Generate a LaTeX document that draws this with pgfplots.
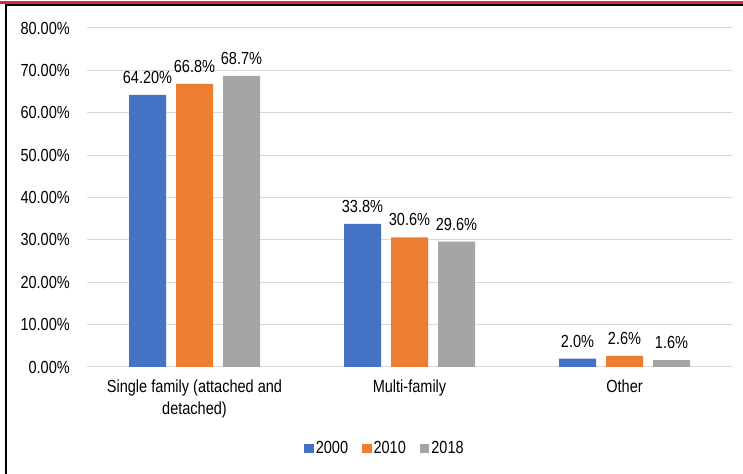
\documentclass[border=0pt]{standalone}
\usepackage{pgfplots}
\pgfplotsset{compat=1.18}
\usepackage{fontspec}
\setmainfont{Liberation Sans}[FakeStretch=0.83]
\definecolor{cb}{HTML}{4472C4}
\definecolor{co}{HTML}{ED7D31}
\definecolor{cg}{HTML}{A5A5A5}
\definecolor{gridc}{HTML}{D9D9D9}
\definecolor{redl}{RGB}{205,50,55}
\newcommand\myfont{\fontsize{17.5bp}{22bp}\selectfont}
\begin{document}
\myfont
\begin{tikzpicture}[x=1bp,y=1bp]
\useasboundingbox (0,0) rectangle (743,474);
\fill[white] (0,0) rectangle (743,474);
\begin{axis}[
  at={(87bp,107bp)}, anchor=south west,
  scale only axis, width=645bp, height=339bp,
  xmin=-0.5, xmax=2.5, ymin=0, ymax=80,
  ybar=10bp, bar width=37bp,
  xtick={0,1,2},
  xticklabels={{Single family (attached and\\detached)},{Multi-family},{Other}},
  ytick={0,10,20,30,40,50,60,70,80},
  yticklabels={0.00\%,10.00\%,20.00\%,30.00\%,40.00\%,50.00\%,60.00\%,70.00\%,80.00\%},
  axis line style={draw=none},
  major tick length=0pt,
  ymajorgrids, grid style={gridc, line width=1bp},
  xticklabel style={align=center, anchor=north, inner sep=0pt, yshift=-13bp, font=\myfont},
  yticklabel style={anchor=east, inner sep=0pt, xshift=-17bp, font=\myfont},
  nodes near coords, point meta=explicit symbolic,
  every node near coord/.append style={anchor=south, inner sep=0pt, yshift=11bp, font=\myfont, text=black},
  legend columns=3,
  legend style={at={(0.462,-0.241)}, anchor=center, draw=none, fill=none, font=\myfont,
    /tikz/every even column/.append style={column sep=12bp}},
  legend image code/.code={\fill[#1] (0bp,-4.75bp) rectangle (9.5bp,4.75bp);},
]
\addplot[fill=cb, draw=none] coordinates {(0,64.2) [64.20\%] (1,33.8) [33.8\%] (2,2.0) [2.0\%]};
\addplot[fill=co, draw=none] coordinates {(0,66.8) [66.8\%] (1,30.6) [30.6\%] (2,2.6) [2.6\%]};
\addplot[fill=cg, draw=none] coordinates {(0,68.7) [68.7\%] (1,29.6) [29.6\%] (2,1.6) [1.6\%]};
\legend{2000,2010,2018}
\end{axis}
\draw[redl, line width=2.5bp] (0,471.7) -- (743,471.7);
\draw[black, line width=1.8bp] (5,469) -- (743,469);
\draw[black, line width=1.5bp] (5.8,469) -- (5.8,0);
\end{tikzpicture}
\end{document}
